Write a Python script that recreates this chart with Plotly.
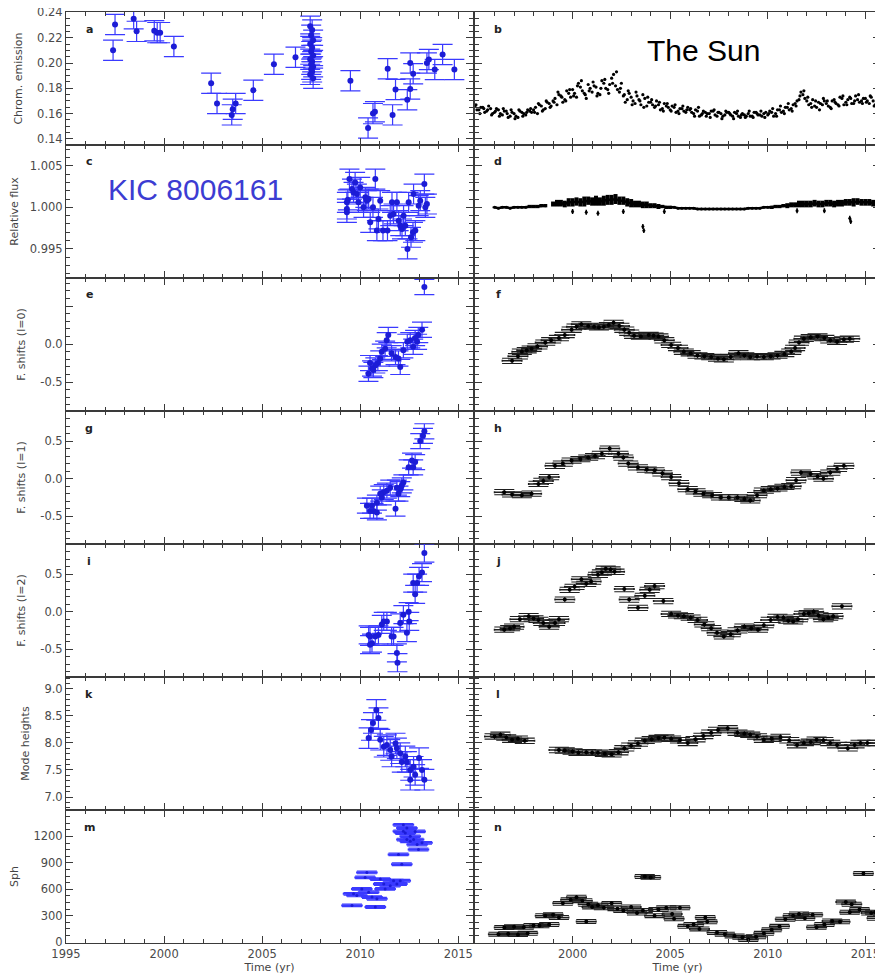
import plotly.graph_objects as go

# ---------------- KIC 8006161 (left column, blue) ----------------
a_years = [1997.4, 1997.5, 1998.45, 1998.6, 1999.5, 1999.65, 1999.8, 2000.5, 2002.4, 2002.7, 2003.45, 2003.5, 2003.65, 2004.55, 2005.6, 2006.7,
           2007.45, 2007.55, 2007.5, 2007.6, 2007.45, 2007.55, 2007.5, 2007.6, 2007.45, 2007.55, 2007.5, 2007.6, 2007.5, 2007.55, 2007.45, 2007.6,
           2009.5, 2010.4, 2010.65, 2010.75, 2011.4, 2011.65, 2011.8, 2012.4, 2012.55, 2012.55, 2012.7, 2013.4, 2013.5, 2013.8, 2014.2, 2014.8]
a_vals = [0.210, 0.2305, 0.235, 0.225, 0.2255, 0.224, 0.224, 0.213, 0.184, 0.168, 0.159, 0.1635, 0.168, 0.1785, 0.199, 0.2045,
          0.229, 0.226, 0.222, 0.218, 0.215, 0.212, 0.209, 0.206, 0.203, 0.201, 0.199, 0.197, 0.195, 0.193, 0.191, 0.188,
          0.186, 0.1487, 0.160, 0.1614, 0.1955, 0.159, 0.179, 0.171, 0.1794, 0.200, 0.1915, 0.200, 0.2027, 0.1948, 0.2067, 0.1948]

c_years = [2009.32, 2009.32, 2009.32, 2009.37, 2009.45, 2009.58, 2009.66, 2009.74, 2009.83, 2009.91, 2010.00, 2010.17, 2010.26, 2010.34,
           2010.43, 2010.51, 2010.65, 2010.77, 2010.85, 2010.93, 2011.02, 2011.16, 2011.39, 2011.53, 2011.62, 2011.70, 2011.87, 2011.96,
           2012.04, 2012.13, 2012.21, 2012.30, 2012.41, 2012.47, 2012.59, 2012.69, 2012.81, 2012.72, 2012.98, 2013.06, 2013.27, 2013.32, 2013.40]
c_vals = [1.0006, 0.9998, 0.9994, 1.0009, 1.0034, 1.0022, 1.0018, 1.0030, 1.0016, 1.0006, 1.0024, 1.0000, 1.0012, 1.0008,
          1.0010, 0.9982, 1.0000, 1.0034, 0.9972, 0.9986, 1.0008, 0.9972, 0.9972, 0.9990, 1.0006, 0.9992, 1.0006, 0.9984,
          0.9978, 0.9974, 0.9990, 0.9978, 0.9950, 1.0006, 0.9964, 0.9970, 0.9972, 1.0016, 1.0002, 1.0008, 1.0028, 1.0000, 1.0004]

e_years = [2013.27, 2013.15, 2012.96, 2012.80, 2012.55, 2012.70, 2012.40, 2012.20, 2011.43, 2011.35, 2011.27, 2011.60,
           2011.80, 2011.95, 2012.04, 2011.02, 2010.90, 2010.77, 2010.60, 2010.42, 2010.67, 2010.50, 2011.10, 2012.90]
e_vals = [0.75, 0.19, 0.12, 0.08, 0.05, -0.035, 0.03, -0.08, 0.12, 0.05, -0.06, -0.12,
          -0.17, -0.19, -0.30, -0.19, -0.25, -0.28, -0.32, -0.39, -0.34, -0.25, -0.10, 0.03]

g_years = [2013.27, 2013.20, 2013.06, 2012.64, 2012.80, 2012.47, 2012.70, 2012.20, 2012.04, 2011.95, 2011.80, 2011.53,
           2011.36, 2011.20, 2011.10, 2011.02, 2010.85, 2010.60, 2010.50, 2010.68, 2010.34, 2010.85, 2011.87, 2012.12]
g_vals = [0.63, 0.57, 0.50, 0.24, 0.22, 0.15, 0.15, -0.05, -0.14, -0.20, -0.40, -0.12,
          -0.16, -0.18, -0.25, -0.20, -0.32, -0.36, -0.43, -0.43, -0.36, -0.45, -0.12, -0.09]

i_years = [2013.27, 2013.15, 2013.00, 2012.90, 2012.70, 2012.80, 2012.47, 2012.20, 2012.04, 2012.38, 2011.87, 2011.90,
           2011.70, 2011.36, 2011.20, 2011.10, 2010.93, 2010.77, 2010.60, 2010.50, 2010.43, 2010.50, 2011.60, 2012.50]
i_vals = [0.78, 0.52, 0.47, 0.38, 0.38, 0.23, 0.00, -0.04, -0.15, -0.28, -0.55, -0.68,
          -0.33, -0.13, -0.13, -0.17, -0.31, -0.33, -0.42, -0.33, -0.31, -0.44, -0.33, -0.13]

k_years = [2010.82, 2010.93, 2010.65, 2010.55, 2010.43, 2011.02, 2011.20, 2011.36, 2011.53, 2011.80, 2011.87, 2011.60,
           2012.04, 2012.12, 2012.30, 2012.38, 2012.55, 2012.72, 2012.80, 2013.00, 2013.15, 2013.27, 2012.55]
k_vals = [8.61, 8.46, 8.37, 8.24, 8.09, 8.06, 7.93, 7.96, 7.87, 7.99, 7.90, 7.75,
          7.81, 7.65, 7.75, 7.65, 7.50, 7.56, 7.41, 7.72, 7.50, 7.32, 7.32]

m_years = [2009.58, 2009.66, 2009.83, 2010.34, 2010.25, 2010.08, 2010.43, 2010.60, 2010.77, 2010.85, 2011.02, 2011.20,
           2011.27, 2011.53, 2011.70, 2011.87, 2012.04, 2012.12, 2011.95, 2012.20, 2012.38, 2012.30, 2012.55, 2012.72,
           2012.90, 2012.97, 2012.55, 2012.38, 2013.15, 2012.20, 2012.80]
m_vals = [417, 548, 530, 791, 735, 604, 567, 511, 399, 492, 716, 660,
          604, 641, 697, 660, 697, 884, 996, 1332, 1295, 1239, 1201, 1164,
          1108, 1052, 1145, 1164, 1127, 1258, 1257]

# ---------------- The Sun (right column, black) ----------------
b_years = [1995.0, 1995.2, 1995.4, 1995.6, 1995.8, 1996.0, 1996.2, 1996.4, 1996.6, 1996.8,
           1997.0, 1997.2, 1997.4, 1997.6, 1997.8, 1998.0, 1998.2, 1998.4, 1998.6, 1998.8,
           1999.0, 1999.2, 1999.4, 1999.6, 1999.8, 2000.0, 2000.2, 2000.4, 2000.6, 2000.8,
           2001.0, 2001.2, 2001.4, 2001.6, 2001.8, 2002.0, 2002.2, 2002.4, 2002.6, 2002.8,
           2003.0, 2003.2, 2003.4, 2003.6, 2003.8, 2004.0, 2004.2, 2004.4, 2004.6, 2004.8,
           2005.0, 2005.2, 2005.4, 2005.6, 2005.8, 2006.0, 2006.2, 2006.4, 2006.6, 2006.8,
           2007.0, 2007.2, 2007.4, 2007.6, 2007.8, 2008.0, 2008.2, 2008.4, 2008.6, 2008.8,
           2009.0, 2009.2, 2009.4, 2009.6, 2009.8, 2010.0, 2010.2, 2010.4, 2010.6, 2010.8,
           2011.0, 2011.2, 2011.4, 2011.6, 2011.8, 2012.0, 2012.2, 2012.4, 2012.6, 2012.8,
           2013.0, 2013.2, 2013.4, 2013.6, 2013.8, 2014.0, 2014.2, 2014.4, 2014.6, 2014.8,
           2015.0, 2015.2, 2015.4, 2015.6, 2015.8]
b_vals = [0.166, 0.163, 0.165, 0.162, 0.164, 0.161, 0.163, 0.159, 0.162, 0.158,
          0.160, 0.157, 0.161, 0.159, 0.162, 0.163, 0.160, 0.166, 0.164, 0.168,
          0.170, 0.167, 0.174, 0.171, 0.176, 0.179, 0.173, 0.181, 0.176, 0.183,
          0.177, 0.181, 0.175, 0.184, 0.179, 0.188, 0.182, 0.177, 0.174, 0.171,
          0.173, 0.168, 0.171, 0.175, 0.166, 0.169, 0.165, 0.167, 0.164, 0.166,
          0.163, 0.165, 0.162, 0.164, 0.161, 0.163, 0.160, 0.162, 0.159, 0.161,
          0.160, 0.162, 0.158, 0.160, 0.159, 0.161, 0.158, 0.160, 0.157, 0.159,
          0.160, 0.158, 0.161, 0.159, 0.160, 0.159, 0.161, 0.160, 0.163, 0.162,
          0.165, 0.164, 0.168, 0.171, 0.175, 0.170, 0.168, 0.166, 0.169, 0.167,
          0.168, 0.165, 0.171, 0.167, 0.172, 0.169, 0.173, 0.168, 0.171, 0.170,
          0.172, 0.168, 0.170, 0.166, 0.169]
b2_years = [1995.1, 1995.3, 1995.5, 1995.7, 1995.9, 1996.1, 1996.3, 1996.5, 1996.7, 1996.9,
            1997.1, 1997.3, 1997.5, 1997.7, 1997.9, 1998.1, 1998.3, 1998.5, 1998.7, 1998.9,
            1999.1, 1999.3, 1999.5, 1999.7, 1999.9, 2000.1, 2000.3, 2000.5, 2000.7, 2000.9,
            2001.1, 2001.3, 2001.5, 2001.7, 2001.9, 2002.1, 2002.3, 2002.5, 2002.7, 2002.9,
            2003.1, 2003.3, 2003.5, 2003.7, 2003.9, 2004.1, 2004.3, 2004.5, 2004.7, 2004.9,
            2005.1, 2005.3, 2005.5, 2005.7, 2005.9, 2006.1, 2006.3, 2006.5, 2006.7, 2006.9,
            2007.1, 2007.3, 2007.5, 2007.7, 2007.9, 2008.1, 2008.3, 2008.5, 2008.7, 2008.9,
            2009.1, 2009.3, 2009.5, 2009.7, 2009.9, 2010.1, 2010.3, 2010.5, 2010.7, 2010.9,
            2011.1, 2011.3, 2011.5, 2011.7, 2011.9, 2012.1, 2012.3, 2012.5, 2012.7, 2012.9,
            2013.1, 2013.3, 2013.5, 2013.7, 2013.9, 2014.1, 2014.3, 2014.5, 2014.7, 2014.9,
            2015.1, 2015.3, 2015.5, 2015.7]
b2_vals = [0.163, 0.165, 0.161, 0.166, 0.160, 0.164, 0.160, 0.162, 0.157, 0.161,
           0.158, 0.162, 0.160, 0.163, 0.161, 0.165, 0.167, 0.163, 0.169, 0.166,
           0.172, 0.175, 0.169, 0.178, 0.173, 0.176, 0.184, 0.178, 0.172, 0.180,
           0.182, 0.176, 0.186, 0.180, 0.183, 0.191, 0.179, 0.184, 0.169, 0.176,
           0.170, 0.174, 0.167, 0.172, 0.169, 0.167, 0.170, 0.163, 0.168, 0.165,
           0.166, 0.161, 0.164, 0.162, 0.165, 0.161, 0.163, 0.158, 0.162, 0.160,
           0.162, 0.159, 0.161, 0.158, 0.161, 0.159, 0.161, 0.158, 0.160, 0.158,
           0.158, 0.161, 0.159, 0.158, 0.161, 0.162, 0.158, 0.163, 0.161, 0.165,
           0.163, 0.167, 0.170, 0.177, 0.172, 0.167, 0.171, 0.165, 0.168, 0.170,
           0.166, 0.170, 0.168, 0.173, 0.167, 0.171, 0.168, 0.174, 0.169, 0.172,
           0.170, 0.173, 0.167, 0.171]
b3_years = [1995.05, 1995.25, 1995.45, 1995.65, 1995.85, 1996.05, 1996.25, 1996.45, 1996.65, 1996.85,
            1997.05, 1997.25, 1997.45, 1997.65, 1997.85, 1998.05, 1998.25, 1998.45, 1998.65, 1998.85,
            1999.05, 1999.25, 1999.45, 1999.65, 1999.85, 2000.05, 2000.25, 2000.45, 2000.65, 2000.85,
            2001.05, 2001.25, 2001.45, 2001.65, 2001.85, 2002.05, 2002.25, 2002.45, 2002.65, 2002.85,
            2003.05, 2003.25, 2003.45, 2003.65, 2003.85, 2004.05, 2004.25, 2004.45, 2004.65, 2004.85,
            2005.05, 2005.25, 2005.45, 2005.65, 2005.85, 2006.05, 2006.25, 2006.45, 2006.65, 2006.85,
            2007.05, 2007.25, 2007.45, 2007.65, 2007.85, 2008.05, 2008.25, 2008.45, 2008.65, 2008.85,
            2009.05, 2009.25, 2009.45, 2009.65, 2009.85, 2010.05, 2010.25, 2010.45, 2010.65, 2010.85,
            2011.05, 2011.25, 2011.45, 2011.65, 2011.85, 2012.05, 2012.25, 2012.45, 2012.65, 2012.85,
            2013.05, 2013.25, 2013.45, 2013.65, 2013.85, 2014.05, 2014.25, 2014.45, 2014.65, 2014.85,
            2015.05, 2015.25, 2015.45, 2015.65]
b3_vals = [0.167, 0.160, 0.164, 0.163, 0.159, 0.162, 0.158, 0.164, 0.160, 0.163,
           0.156, 0.163, 0.158, 0.161, 0.164, 0.161, 0.168, 0.162, 0.170, 0.165,
           0.169, 0.177, 0.173, 0.170, 0.179, 0.174, 0.182, 0.186, 0.175, 0.178,
           0.185, 0.174, 0.180, 0.187, 0.176, 0.184, 0.193, 0.180, 0.175, 0.178,
           0.167, 0.177, 0.170, 0.165, 0.173, 0.171, 0.166, 0.169, 0.162, 0.168,
           0.162, 0.167, 0.160, 0.166, 0.163, 0.164, 0.158, 0.165, 0.160, 0.158,
           0.157, 0.163, 0.161, 0.156, 0.162, 0.160, 0.156, 0.162, 0.159, 0.157,
           0.162, 0.157, 0.160, 0.162, 0.157, 0.160, 0.164, 0.158, 0.166, 0.160,
           0.168, 0.162, 0.166, 0.174, 0.178, 0.173, 0.165, 0.170, 0.163, 0.172,
           0.170, 0.164, 0.169, 0.166, 0.174, 0.167, 0.172, 0.170, 0.175, 0.168,
           0.169, 0.174, 0.166, 0.172]

# relative flux of the Sun: band centre and half-thickness
d_years = [1996.0, 1996.2, 1996.4, 1996.6, 1996.8, 1997.0, 1997.2, 1997.4, 1997.6, 1997.8, 1998.0, 1998.2, 1998.4, 1998.6,
           None,
           1999.0, 1999.2, 1999.4, 1999.6, 1999.8, 2000.0, 2000.2, 2000.4, 2000.6, 2000.8,
           2001.0, 2001.2, 2001.4, 2001.6, 2001.8, 2002.0, 2002.2, 2002.4, 2002.6, 2002.8,
           2003.0, 2003.2, 2003.4, 2003.6, 2003.8, 2004.0, 2004.2, 2004.4, 2004.6, 2004.8,
           2005.0, 2005.2, 2005.4, 2005.6, 2005.8, 2006.0, 2006.2, 2006.4, 2006.6, 2006.8,
           2007.0, 2007.2, 2007.4, 2007.6, 2007.8, 2008.0, 2008.2, 2008.4, 2008.6, 2008.8,
           2009.0, 2009.2, 2009.4, 2009.6, 2009.8, 2010.0, 2010.2, 2010.4, 2010.6, 2010.8,
           2011.0, 2011.2, 2011.4, 2011.6, 2011.8, 2012.0, 2012.2, 2012.4, 2012.6, 2012.8,
           2013.0, 2013.2, 2013.4, 2013.6, 2013.8, 2014.0, 2014.2, 2014.4, 2014.6, 2014.8,
           2015.0, 2015.2, 2015.4, 2015.6, 2015.8]
d_vals = [1.0000, 0.9999, 1.0000, 1.0000, 0.9999, 1.0000, 1.0000, 1.0000, 1.0000, 1.0001, 1.0001, 1.0001, 1.0002, 1.0002,
          None,
          1.0004, 1.0005, 1.0005, 1.0004, 1.0006, 1.0006, 1.0007, 1.0006, 1.0007, 1.0008,
          1.0007, 1.0008, 1.0007, 1.0008, 1.0009, 1.0009, 1.0010, 1.0008, 1.0008, 1.0006,
          1.0005, 1.0004, 1.0004, 1.0003, 1.0003, 1.0002, 1.0002, 1.0001, 1.0001, 1.0000,
          1.0000, 1.0000, 0.9999, 0.9999, 0.9999, 0.9999, 0.9999, 0.9998, 0.9998, 0.9998,
          0.9998, 0.9998, 0.9998, 0.9998, 0.9998, 0.9998, 0.9998, 0.9998, 0.9998, 0.9998,
          0.9999, 0.9999, 0.9999, 0.9999, 1.0000, 1.0000, 1.0000, 1.0001, 1.0001, 1.0002,
          1.0002, 1.0003, 1.0003, 1.0004, 1.0004, 1.0004, 1.0004, 1.0005, 1.0004, 1.0004,
          1.0005, 1.0005, 1.0004, 1.0005, 1.0005, 1.0006, 1.0006, 1.0006, 1.0007, 1.0006,
          1.0006, 1.0006, 1.0005, 1.0004, 1.0003]
d_spread = [0.0001, 0.0001, 0.0001, 0.0001, 0.0001, 0.0001, 0.0001, 0.0001, 0.0001, 0.0002, 0.0002, 0.0002, 0.0002, 0.0002,
            None,
            0.0003, 0.0004, 0.0004, 0.0004, 0.0005, 0.0005, 0.0005, 0.0005, 0.0006, 0.0005,
            0.0005, 0.0006, 0.0005, 0.0006, 0.0006, 0.0006, 0.0006, 0.0005, 0.0005, 0.0005,
            0.0005, 0.0004, 0.0004, 0.0004, 0.0004, 0.0003, 0.0003, 0.0003, 0.0002, 0.0002,
            0.0002, 0.0001, 0.0001, 0.0001, 0.0001, 0.0001, 0.0001, 0.0001, 0.0001, 0.0001,
            0.0001, 0.0001, 0.0001, 0.0001, 0.0001, 0.0001, 0.0001, 0.0001, 0.0001, 0.0001,
            0.0001, 0.0001, 0.0001, 0.0001, 0.0001, 0.0001, 0.0002, 0.0002, 0.0002, 0.0002,
            0.0003, 0.0003, 0.0003, 0.0004, 0.0004, 0.0004, 0.0004, 0.0004, 0.0004, 0.0004,
            0.0004, 0.0004, 0.0004, 0.0004, 0.0004, 0.0004, 0.0004, 0.0005, 0.0004, 0.0004,
            0.0004, 0.0004, 0.0004, 0.0004, 0.0004]
d_dip_years = [2000.0, 2000.7, 2001.3, 2002.6, 2003.6, 2003.65, 2004.7, 2011.5, 2012.9, 2014.2, 2014.25]
d_dip_vals = [0.9995, 0.9994, 0.9993, 0.9995, 0.9977, 0.9972, 0.9995, 0.9996, 0.9996, 0.9987, 0.9983]

f_years = [1996.9, 1997.2, 1997.4, 1997.65, 1997.9, 1998.2, 1998.6, 1998.9, 1999.3, 1999.6, 1999.95, 2000.2, 2000.45, 2000.8,
           2001.1, 2001.35, 2001.6, 2001.85, 2002.1, 2002.4, 2002.65, 2002.9, 2003.15, 2003.5, 2003.9, 2004.15, 2004.4, 2004.7,
           2005.05, 2005.4, 2005.7, 2006.05, 2006.4, 2006.75, 2007.1, 2007.45, 2007.75, 2008.1, 2008.5, 2008.8, 2009.1, 2009.45,
           2009.8, 2010.15, 2010.5, 2010.85, 2011.2, 2011.4, 2011.6, 2011.85, 2012.2, 2012.55, 2012.9, 2013.2, 2013.55, 2013.9, 2014.2]
f_vals = [-0.22, -0.16, -0.10, -0.08, -0.06, -0.03, 0.02, 0.05, 0.08, 0.12, 0.19, 0.23, 0.26, 0.24,
          0.23, 0.22, 0.23, 0.25, 0.28, 0.24, 0.19, 0.15, 0.11, 0.10, 0.12, 0.11, 0.10, 0.05,
          -0.01, -0.05, -0.10, -0.12, -0.15, -0.16, -0.17, -0.19, -0.20, -0.17, -0.12, -0.15, -0.17, -0.16,
          -0.17, -0.16, -0.15, -0.13, -0.10, -0.05, 0.02, 0.07, 0.09, 0.10, 0.08, 0.05, 0.03, 0.06, 0.07]

h_years = [1996.5, 1996.9, 1997.4, 1997.9, 1998.25, 1998.5, 1998.8, 1999.1, 1999.5, 1999.95, 2000.4, 2000.8, 2001.15, 2001.5,
           2001.9, 2002.35, 2002.6, 2002.85, 2003.35, 2003.8, 2004.2, 2004.6, 2005.05, 2005.45, 2005.9, 2006.3, 2006.7, 2007.15,
           2007.6, 2008.0, 2008.45, 2008.8, 2009.1, 2009.45, 2009.8, 2010.15, 2010.5, 2010.85, 2011.2, 2011.45, 2011.7, 2012.2,
           2012.55, 2012.85, 2013.2, 2013.55, 2013.9]
h_vals = [-0.18, -0.21, -0.22, -0.20, -0.07, -0.03, 0.02, 0.17, 0.20, 0.24, 0.26, 0.28, 0.30, 0.33,
          0.40, 0.33, 0.28, 0.20, 0.15, 0.12, 0.11, 0.07, 0.02, -0.06, -0.14, -0.17, -0.20, -0.22,
          -0.25, -0.25, -0.25, -0.27, -0.29, -0.22, -0.16, -0.14, -0.13, -0.11, -0.10, -0.02, 0.08, 0.06,
          0.03, 0.00, 0.08, 0.13, 0.17]

j_years = [1996.5, 1996.8, 1997.0, 1997.3, 1997.75, 1998.0, 1998.25, 1998.5, 1998.8, 1999.1, 1999.3, 1999.6, 1999.85, 2000.1,
           2000.45, 2000.7, 2000.95, 2001.3, 2001.5, 2001.7, 2001.95, 2002.15, 2002.65, 2002.9, 2003.35, 2003.7, 2003.95,
           2004.2, 2004.65, 2005.05, 2005.4, 2005.7, 2006.05, 2006.4, 2006.75, 2007.1, 2007.4, 2007.75, 2008.1, 2008.45,
           2008.8, 2009.15, 2009.5, 2009.8, 2010.15, 2010.5, 2010.8, 2011.05, 2011.3, 2011.55, 2011.85, 2012.1, 2012.35,
           2012.6, 2012.85, 2013.1, 2013.35, 2013.8]
j_vals = [-0.24, -0.22, -0.20, -0.10, -0.06, -0.09, -0.11, -0.15, -0.20, -0.15, -0.10, 0.16, 0.29, 0.33,
          0.43, 0.37, 0.40, 0.49, 0.52, 0.57, 0.56, 0.53, 0.30, 0.16, 0.05, 0.21, 0.29,
          0.34, 0.14, -0.03, -0.05, -0.06, -0.08, -0.11, -0.17, -0.22, -0.28, -0.33, -0.30, -0.25,
          -0.20, -0.22, -0.24, -0.18, -0.11, -0.07, -0.08, -0.12, -0.13, -0.10, -0.03, -0.02, 0.00,
          -0.05, -0.10, -0.08, -0.06, 0.07]

l_years = [1996.0, 1996.3, 1996.6, 1996.9, 1997.2, 1997.55, 1999.3, 1999.6, 2000.0, 2000.3, 2000.7, 2001.0, 2001.3, 2001.65,
           2002.0, 2002.35, 2002.65, 2003.0, 2003.35, 2003.7, 2004.05, 2004.4, 2004.7, 2005.05, 2005.5, 2005.9, 2006.3, 2006.7,
           2007.1, 2007.45, 2007.95, 2008.45, 2008.8, 2009.1, 2009.45, 2009.8, 2010.2, 2010.65, 2011.1, 2011.5, 2011.85, 2012.2,
           2012.5, 2012.85, 2013.2, 2013.55, 2014.1, 2014.45, 2014.75, 2015.1, 2015.6]
l_vals = [8.12, 8.15, 8.10, 8.06, 8.08, 8.04, 7.87, 7.86, 7.84, 7.82, 7.83, 7.82, 7.82, 7.80,
          7.79, 7.83, 7.90, 7.95, 7.99, 8.04, 8.07, 8.09, 8.10, 8.08, 8.05, 8.00, 8.07, 8.13,
          8.19, 8.24, 8.27, 8.19, 8.17, 8.15, 8.12, 8.06, 8.08, 8.11, 8.05, 7.96, 8.00, 8.02,
          8.06, 8.05, 8.00, 7.96, 7.90, 7.96, 8.00, 8.00, 8.00]

n_years = [1996.2, 1996.7, 1997.2, 1997.7, 1996.5, 1997.0, 1997.5, 1998.0, 1998.3, 1998.8, 1998.6, 1999.0, 1999.3, 1999.5,
           1999.9, 2000.2, 2000.5, 2000.8, 2001.0, 2000.7, 2001.3, 2001.6, 2002.0, 2002.3, 2002.6, 2003.0, 2003.3, 2003.6,
           2004.0, 2003.7, 2004.2, 2004.4, 2004.8, 2005.1, 2005.2, 2005.5, 2005.9, 2006.2, 2006.5, 2006.8, 2006.9, 2007.4,
           2007.8, 2008.3, 2008.7, 2009.0, 2009.4, 2009.8, 2010.2, 2010.6, 2010.9, 2011.3, 2011.6, 2011.9, 2012.3, 2012.5,
           2012.9, 2013.3, 2013.7, 2014.0, 2014.3, 2014.2, 2014.7, 2014.9, 2015.3, 2015.6, 2015.5]
n_vals = [90, 95, 85, 100, 165, 175, 170, 190, 185, 200, 300, 310, 280, 440,
          480, 510, 470, 430, 400, 235, 420, 390, 440, 380, 360, 400, 330, 360,
          735, 745, 300, 370, 390, 320, 265, 390, 180, 200, 150, 280, 230, 110,
          90, 70, 55, 30, 60, 100, 140, 180, 260, 300, 320, 270, 310, 170,
          200, 240, 230, 455, 430, 340, 370, 780, 330, 270, 340]

# ---------------- labels ----------------
y_titles = ["Chrom. emission", "Relative flux", "F. shifts (l=0)", "F. shifts (l=1)",
            "F. shifts (l=2)", "Mode heights", "Sph"]
panel_letters = [["a", "b"], ["c", "d"], ["e", "f"], ["g", "h"], ["i", "j"], ["k", "l"], ["m", "n"]]
x_ticks = [1995, 2000, 2005, 2010, 2015]
x_ticklabels_left = ["1995", "2000", "2005", "2010", "2015"]
x_ticklabels_right = ["", "2000", "2005", "2010", "2015"]

# ---------------- styling / layout ----------------
OFF = 8                      # page body margin of the html page
W, H = 883 - OFF, 976 - OFF  # figure size so that it fills the window
ROW_TOP, ROW_H = 12, 133     # positions in window pixels
X_DOM = [(66, 473), (475, 880)]
X_RANGE = [1995, 2015.75]
AX = "#3a3a3a"
BLUE = "#1c1cd6"
EBLUE = "#3a3aff"
TICKFONT = dict(family="DejaVu Sans", size=11.5, color="#4a4a4a")


def px(x):
    return (x - OFF) / W


def py(y):
    return 1 - (y - OFF) / H


row_cfg = [
    dict(rng=[0.1352, 0.2403], tickvals=[0.14, 0.16, 0.18, 0.20, 0.22, 0.24],
         ticktext=["0.14", "0.16", "0.18", "0.20", "0.22", "0.24"], minor=0.005),
    dict(rng=[0.9915, 1.0075], tickvals=[0.995, 1.000, 1.005],
         ticktext=["0.995", "1.000", "1.005"], minor=0.001),
    dict(rng=[-0.88, 0.87], tickvals=[-0.5, 0.0, 0.5], ticktext=["-0.5", "0.0", ""], minor=0.1),
    dict(rng=[-0.87, 0.90], tickvals=[-0.5, 0.0, 0.5], ticktext=["-0.5", "0.0", "0.5"], minor=0.1),
    dict(rng=[-0.87, 0.90], tickvals=[-0.5, 0.0, 0.5], ticktext=["-0.5", "0.0", "0.5"], minor=0.1),
    dict(rng=[6.76, 9.22], tickvals=[7.0, 7.5, 8.0, 8.5, 9.0],
         ticktext=["7.0", "7.5", "8.0", "8.5", "9.0"], minor=0.1),
    dict(rng=[-10, 1500], tickvals=[0, 300, 600, 900, 1200],
         ticktext=["0", "300", "600", "900", "1200"], minor=75),
]

fig = go.Figure()


def axname(k):
    return ("x" if k == 1 else f"x{k}"), ("y" if k == 1 else f"y{k}")


def kic_errbars(k, xs, ys, err):
    xa, ya = axname(k)
    fig.add_trace(go.Scatter(
        x=xs, y=ys, mode="markers", xaxis=xa, yaxis=ya,
        marker=dict(color=BLUE, size=6),
        error_y=dict(type="constant", value=err, color=EBLUE, thickness=1.2, width=10)))


def sun_cross(k, xs, ys, yerr, msize=4):
    xa, ya = axname(k)
    fig.add_trace(go.Scatter(
        x=xs, y=ys, mode="markers", xaxis=xa, yaxis=ya,
        marker=dict(color="black", size=msize),
        error_x=dict(type="constant", value=0.5, color="#1e1e1e", thickness=1.5, width=1),
        error_y=dict(type="constant", value=yerr, color="#1e1e1e", thickness=1.1, width=10)))


# left column
kic_errbars(1, a_years, a_vals, 0.008)
kic_errbars(3, c_years, c_vals, 0.0012)
kic_errbars(5, e_years, e_vals, 0.10)
kic_errbars(7, g_years, g_vals, 0.10)
kic_errbars(9, i_years, i_vals, 0.12)
kic_errbars(11, k_years, k_vals, 0.19)
fig.add_trace(go.Scatter(
    x=m_years, y=m_vals, mode="markers", xaxis="x13", yaxis="y13",
    marker=dict(color=BLUE, size=3),
    error_x=dict(type="constant", value=0.5, color=EBLUE, thickness=2, width=1),
    error_y=dict(type="constant", value=15, color=EBLUE, thickness=1.2, width=10)))

# right column
for bx, bv in [(b_years, b_vals), (b2_years, b2_vals), (b3_years, b3_vals)]:
    fig.add_trace(go.Scatter(x=bx, y=bv, mode="markers", xaxis="x2", yaxis="y2",
                             marker=dict(color="black", size=3.2)))
fig.add_trace(go.Scatter(x=d_years, y=d_vals, mode="lines+markers", xaxis="x4", yaxis="y4",
                         line=dict(color="black", width=2.5), marker=dict(color="black", size=3),
                         connectgaps=False,
                         error_y=dict(type="data", array=d_spread, color="black", thickness=4, width=0)))
fig.add_trace(go.Scatter(x=d_dip_years, y=d_dip_vals, mode="markers", xaxis="x4", yaxis="y4",
                         marker=dict(color="black", size=3),
                         error_y=dict(type="constant", value=0.0003, color="black", thickness=1.5, width=0)))
sun_cross(6, f_years, f_vals, 0.035)
sun_cross(8, h_years, h_vals, 0.035)
sun_cross(10, j_years, j_vals, 0.035)
sun_cross(12, l_years, l_vals, 0.05)
sun_cross(14, n_years, n_vals, 22)

layout = dict(width=W, height=H, margin=dict(l=0, r=0, t=0, b=0),
              paper_bgcolor="white", plot_bgcolor="white", showlegend=False)

annotations = []
for r in range(7):
    top = ROW_TOP + ROW_H * r
    ydom = [py(top + ROW_H), py(top)]
    cfg = row_cfg[r]
    for c in range(2):
        k = r * 2 + c + 1
        xn = "xaxis" if k == 1 else f"xaxis{k}"
        yn = "yaxis" if k == 1 else f"yaxis{k}"
        xa, ya = axname(k)
        x0, x1 = X_DOM[c]
        bottom = (r == 6)
        layout[xn] = dict(
            domain=[px(x0), px(x1)], range=X_RANGE, anchor=ya,
            showline=True, linecolor=AX, linewidth=1, mirror="allticks",
            ticks="inside", ticklen=7, tickcolor=AX, tickwidth=1,
            tickvals=x_ticks,
            ticktext=(x_ticklabels_left if c == 0 else x_ticklabels_right),
            minor=dict(dtick=1, tick0=1995, ticks="inside", ticklen=4, tickcolor=AX, showgrid=False),
            showgrid=False, zeroline=False, showticklabels=bottom, tickfont=TICKFONT,
            automargin=False, ticklabeloverflow="allow",
            title=dict(text="Time (yr)" if bottom else "", font=dict(family="DejaVu Sans", size=11, color="#444"),
                       standoff=2))
        layout[yn] = dict(
            domain=ydom, range=cfg["rng"], anchor=xa,
            showline=True, linecolor=AX, linewidth=1, mirror="allticks",
            ticks="inside", ticklen=7, tickcolor=AX, tickwidth=1,
            tickvals=cfg["tickvals"], ticktext=cfg["ticktext"],
            minor=dict(dtick=cfg["minor"], tick0=cfg["tickvals"][0], ticks="inside", ticklen=4,
                       tickcolor=AX, showgrid=False),
            showgrid=False, zeroline=False, showticklabels=(c == 0), tickfont=TICKFONT,
            automargin=False, ticklabeloverflow="allow",
            title=dict(text=y_titles[r] if c == 0 else "",
                       font=dict(family="DejaVu Sans", size=11, color="#444"), standoff=12))
        lx = 89 if c == 0 else 498
        annotations.append(dict(
            x=px(lx), y=py(top + 17), xref="paper", yref="paper",
            text="<b>" + panel_letters[r][c] + "</b>", showarrow=False,
            font=dict(family="DejaVu Sans", size=11, color="#222"), xanchor="center", yanchor="middle"))

annotations.append(dict(x=px(703), y=py(50), xref="paper", yref="paper", text="The Sun",
                        showarrow=False, xanchor="center", yanchor="middle",
                        font=dict(family="Liberation Sans", size=30, color="black")))
annotations.append(dict(x=px(195), y=py(189), xref="paper", yref="paper", text="KIC 8006161",
                        showarrow=False, xanchor="center", yanchor="middle",
                        font=dict(family="Liberation Sans", size=30, color="#3c3cd2")))
layout["annotations"] = annotations

fig.update_layout(**layout)
fig.write_html("out.html")
